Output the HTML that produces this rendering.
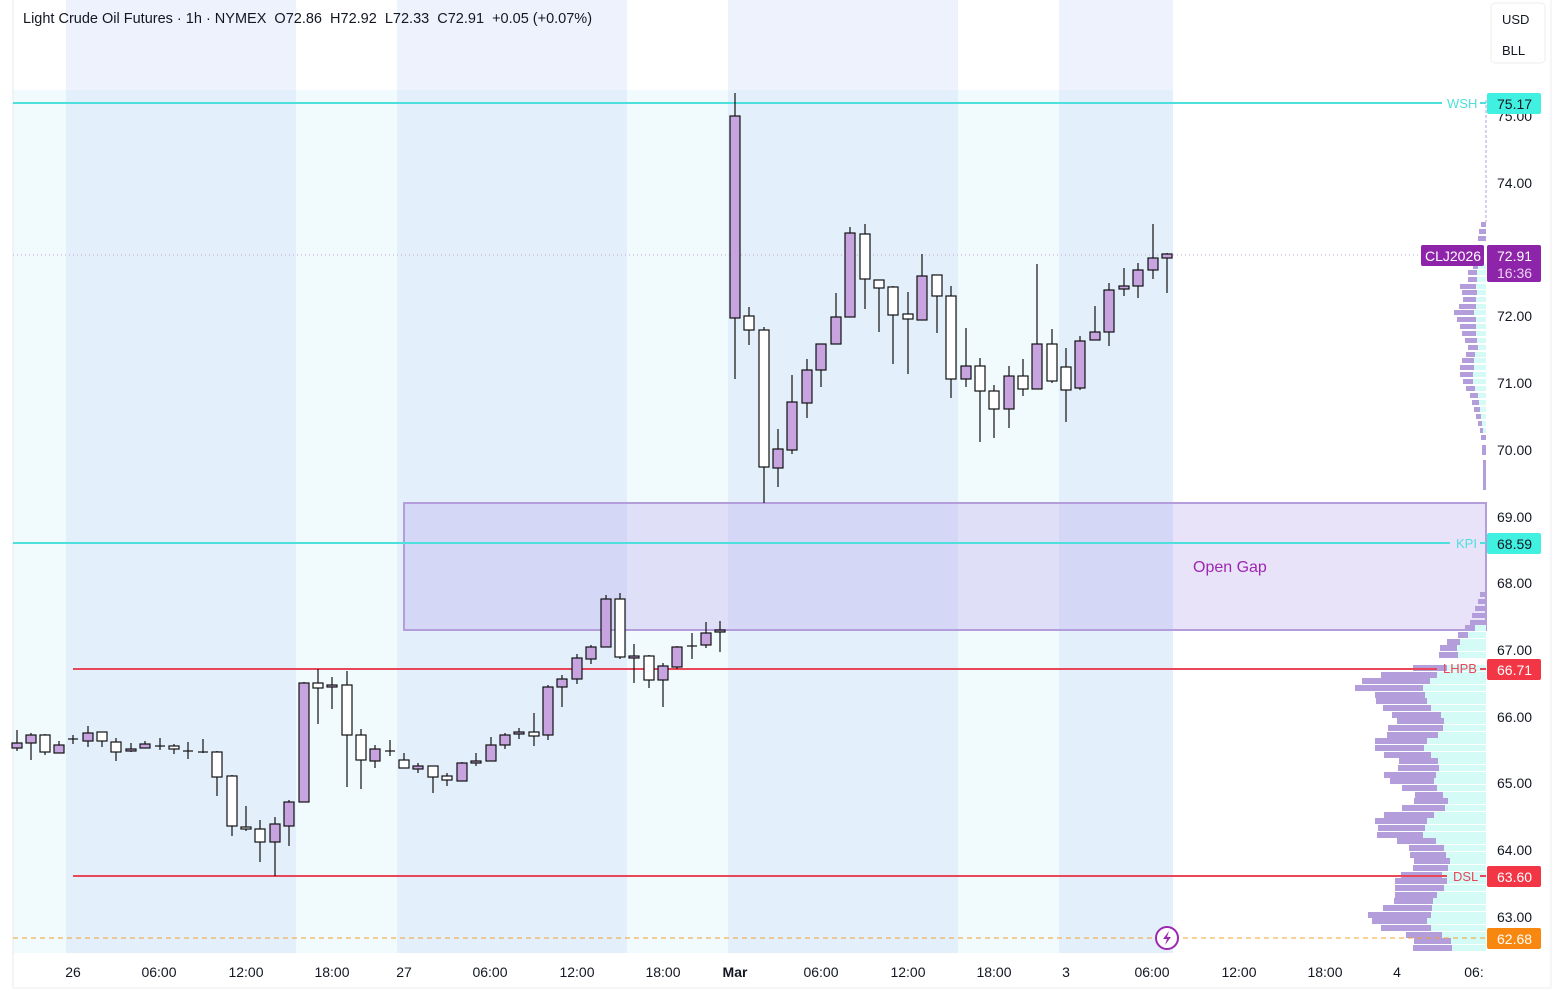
<!DOCTYPE html>
<html><head><meta charset="utf-8"><style>
body{margin:0;background:#fff;}
svg{display:block;font-family:"Liberation Sans",sans-serif;}
.hdr{white-space:pre;}
</style></head><body>
<svg width="1564" height="991" viewBox="0 0 1564 991" xmlns="http://www.w3.org/2000/svg">
<rect width="1564" height="991" fill="#fff"/>
<rect x="66" y="0" width="230" height="90" fill="#eef2fd"/>
<rect x="397" y="0" width="230" height="90" fill="#eef2fd"/>
<rect x="728" y="0" width="230" height="90" fill="#eef2fd"/>
<rect x="1059" y="0" width="114" height="90" fill="#eef2fd"/>
<rect x="13" y="90" width="1160" height="863" fill="#f1fafd"/>
<rect x="66" y="90" width="230" height="863" fill="#e3effb"/>
<rect x="397" y="90" width="230" height="863" fill="#e3effb"/>
<rect x="728" y="90" width="230" height="863" fill="#e3effb"/>
<rect x="1059" y="90" width="114" height="863" fill="#e3effb"/>
<line x1="13" y1="0" x2="13" y2="988" stroke="#e8e8ec"/>
<line x1="13" y1="988" x2="1551" y2="988" stroke="#eeeeee"/>
<line x1="1551" y1="0" x2="1551" y2="988" stroke="#eeeeee"/>
<rect x="404" y="503" width="1082" height="127" fill="rgba(175,155,235,0.28)" stroke="#b39ddb" stroke-width="2"/>
<text x="1193" y="572" font-size="16" fill="#9c27b0">Open Gap</text>
<line x1="13" y1="255" x2="1421" y2="255" stroke="#c9a6d6" stroke-dasharray="1,3"/>
<g fill="#b39ddb">
<rect x="1481" y="222" width="5" height="5"/><rect x="1479" y="229" width="7" height="5"/><rect x="1478" y="236" width="8" height="5"/>
</g>
<g>
<rect x="1473" y="264" width="13" height="5" fill="#d4fbf6"/><rect x="1473" y="264" width="5" height="5" fill="#b39ddb"/>
<rect x="1468" y="270" width="18" height="5" fill="#d4fbf6"/><rect x="1468" y="270" width="9" height="5" fill="#b39ddb"/>
<rect x="1468" y="277" width="18" height="5" fill="#d4fbf6"/><rect x="1468" y="277" width="9" height="5" fill="#b39ddb"/>
<rect x="1460" y="284" width="26" height="5" fill="#d4fbf6"/><rect x="1460" y="284" width="16" height="5" fill="#b39ddb"/>
<rect x="1462" y="290" width="24" height="5" fill="#d4fbf6"/><rect x="1462" y="290" width="15" height="5" fill="#b39ddb"/>
<rect x="1463" y="297" width="23" height="5" fill="#d4fbf6"/><rect x="1463" y="297" width="13" height="5" fill="#b39ddb"/>
<rect x="1459" y="304" width="27" height="5" fill="#d4fbf6"/><rect x="1459" y="304" width="17" height="5" fill="#b39ddb"/>
<rect x="1454" y="310" width="32" height="5" fill="#d4fbf6"/><rect x="1454" y="310" width="20" height="5" fill="#b39ddb"/>
<rect x="1457" y="317" width="29" height="5" fill="#d4fbf6"/><rect x="1457" y="317" width="19" height="5" fill="#b39ddb"/>
<rect x="1460" y="324" width="26" height="5" fill="#d4fbf6"/><rect x="1460" y="324" width="16" height="5" fill="#b39ddb"/>
<rect x="1462" y="331" width="24" height="5" fill="#d4fbf6"/><rect x="1462" y="331" width="14" height="5" fill="#b39ddb"/>
<rect x="1465" y="338" width="21" height="5" fill="#d4fbf6"/><rect x="1465" y="338" width="12" height="5" fill="#b39ddb"/>
<rect x="1468" y="345" width="18" height="5" fill="#d4fbf6"/><rect x="1468" y="345" width="10" height="5" fill="#b39ddb"/>
<rect x="1466" y="352" width="20" height="5" fill="#d4fbf6"/><rect x="1466" y="352" width="9" height="5" fill="#b39ddb"/>
<rect x="1462" y="358" width="24" height="5" fill="#d4fbf6"/><rect x="1462" y="358" width="12" height="5" fill="#b39ddb"/>
<rect x="1460" y="365" width="26" height="5" fill="#d4fbf6"/><rect x="1460" y="365" width="14" height="5" fill="#b39ddb"/>
<rect x="1460" y="372" width="26" height="5" fill="#d4fbf6"/><rect x="1460" y="372" width="13" height="5" fill="#b39ddb"/>
<rect x="1463" y="379" width="23" height="5" fill="#d4fbf6"/><rect x="1463" y="379" width="10" height="5" fill="#b39ddb"/>
<rect x="1466" y="386" width="20" height="5" fill="#d4fbf6"/><rect x="1466" y="386" width="9" height="5" fill="#b39ddb"/>
<rect x="1470" y="393" width="16" height="5" fill="#d4fbf6"/><rect x="1470" y="393" width="8" height="5" fill="#b39ddb"/>
<rect x="1472" y="400" width="14" height="5" fill="#d4fbf6"/><rect x="1472" y="400" width="7" height="5" fill="#b39ddb"/>
<rect x="1474" y="407" width="12" height="5" fill="#d4fbf6"/><rect x="1474" y="407" width="6" height="5" fill="#b39ddb"/>
<rect x="1476" y="414" width="10" height="5" fill="#d4fbf6"/><rect x="1476" y="414" width="5" height="5" fill="#b39ddb"/>
<rect x="1478" y="421" width="8" height="5" fill="#d4fbf6"/><rect x="1478" y="421" width="4" height="5" fill="#b39ddb"/>
<rect x="1480" y="428" width="6" height="5" fill="#d4fbf6"/><rect x="1480" y="428" width="3" height="5" fill="#b39ddb"/>
<rect x="1481" y="435" width="5" height="5" fill="#b39ddb"/><rect x="1482" y="445" width="4" height="10" fill="#b39ddb"/><rect x="1483" y="460" width="3" height="30" fill="#b39ddb"/>
</g>
<line x1="1486" y1="100" x2="1486" y2="222" stroke="#b39ddb" stroke-dasharray="3,2"/>
<g>
<rect x="1480" y="592" width="6" height="5" fill="#b39ddb"/>
<rect x="1478" y="599" width="8" height="5" fill="#b39ddb"/>
<rect x="1475" y="606" width="11" height="5" fill="#b39ddb"/>
<rect x="1472" y="613" width="14" height="5" fill="#b39ddb"/>
<rect x="1470" y="620" width="16" height="5" fill="#b39ddb"/>
<g fill="#d4fbf6">
<rect x="1475" y="625" width="11" height="6"/><rect x="1468" y="632" width="18" height="6"/><rect x="1460" y="639" width="26" height="6"/>
<rect x="1457" y="645" width="29" height="6"/><rect x="1458" y="652" width="28" height="6"/><rect x="1447" y="665" width="39" height="6"/>
<rect x="1437" y="672" width="49" height="6"/><rect x="1430" y="678" width="56" height="6"/><rect x="1423" y="685" width="63" height="6"/>
<rect x="1425" y="692" width="61" height="6"/><rect x="1427" y="698" width="59" height="6"/><rect x="1431" y="705" width="55" height="6"/>
<rect x="1441" y="712" width="45" height="6"/><rect x="1444" y="718" width="42" height="6"/><rect x="1443" y="725" width="43" height="6"/>
<rect x="1438" y="732" width="48" height="6"/><rect x="1427" y="738" width="59" height="6"/><rect x="1424" y="745" width="62" height="6"/>
<rect x="1431" y="752" width="55" height="6"/><rect x="1438" y="758" width="48" height="6"/><rect x="1439" y="765" width="47" height="6"/>
<rect x="1436" y="772" width="50" height="6"/><rect x="1434" y="778" width="52" height="6"/><rect x="1437" y="785" width="49" height="6"/>
<rect x="1443" y="792" width="43" height="6"/><rect x="1448" y="798" width="38" height="6"/><rect x="1445" y="805" width="41" height="6"/>
<rect x="1434" y="812" width="52" height="6"/><rect x="1427" y="818" width="59" height="6"/><rect x="1425" y="825" width="61" height="6"/>
<rect x="1423" y="832" width="63" height="6"/><rect x="1436" y="838" width="50" height="6"/><rect x="1444" y="845" width="42" height="6"/>
<rect x="1446" y="852" width="40" height="6"/><rect x="1450" y="858" width="36" height="6"/><rect x="1448" y="865" width="38" height="6"/>
<rect x="1442" y="872" width="44" height="6"/><rect x="1447" y="878" width="39" height="6"/><rect x="1444" y="885" width="42" height="6"/>
<rect x="1437" y="892" width="49" height="6"/><rect x="1433" y="898" width="53" height="6"/><rect x="1432" y="905" width="54" height="6"/>
<rect x="1431" y="912" width="55" height="6"/><rect x="1427" y="918" width="59" height="6"/><rect x="1431" y="925" width="55" height="6"/>
<rect x="1442" y="932" width="44" height="6"/><rect x="1451" y="938" width="35" height="6"/><rect x="1452" y="945" width="34" height="6"/>
</g>
<g fill="#b39ddb">
<rect x="1465" y="625" width="10" height="6"/><rect x="1458" y="632" width="10" height="6"/><rect x="1447" y="639" width="13" height="6"/>
<rect x="1440" y="645" width="17" height="6"/><rect x="1439" y="652" width="19" height="6"/><rect x="1413" y="665" width="34" height="6"/>
<rect x="1381" y="672" width="56" height="6"/><rect x="1362" y="678" width="68" height="6"/><rect x="1355" y="685" width="68" height="6"/>
<rect x="1375" y="692" width="50" height="6"/><rect x="1376" y="698" width="51" height="6"/><rect x="1383" y="705" width="48" height="6"/>
<rect x="1392" y="712" width="49" height="6"/><rect x="1397" y="718" width="47" height="6"/><rect x="1388" y="725" width="55" height="6"/>
<rect x="1387" y="732" width="51" height="6"/><rect x="1375" y="738" width="52" height="6"/><rect x="1375" y="745" width="49" height="6"/>
<rect x="1384" y="752" width="47" height="6"/><rect x="1399" y="758" width="39" height="6"/><rect x="1398" y="765" width="41" height="6"/>
<rect x="1384" y="772" width="52" height="6"/><rect x="1390" y="778" width="44" height="6"/><rect x="1402" y="785" width="35" height="6"/>
<rect x="1415" y="792" width="28" height="6"/><rect x="1414" y="798" width="34" height="6"/><rect x="1402" y="805" width="43" height="6"/>
<rect x="1384" y="812" width="50" height="6"/><rect x="1375" y="818" width="52" height="6"/><rect x="1378" y="825" width="47" height="6"/>
<rect x="1377" y="832" width="46" height="6"/><rect x="1397" y="838" width="39" height="6"/><rect x="1409" y="845" width="35" height="6"/>
<rect x="1410" y="852" width="36" height="6"/><rect x="1414" y="858" width="36" height="6"/><rect x="1413" y="865" width="35" height="6"/>
<rect x="1401" y="872" width="41" height="6"/><rect x="1395" y="878" width="52" height="6"/><rect x="1395" y="885" width="49" height="6"/>
<rect x="1395" y="892" width="42" height="6"/><rect x="1394" y="898" width="39" height="6"/><rect x="1383" y="905" width="49" height="6"/>
<rect x="1368" y="912" width="63" height="6"/><rect x="1372" y="918" width="55" height="6"/><rect x="1381" y="925" width="50" height="6"/>
<rect x="1406" y="932" width="36" height="6"/><rect x="1414" y="938" width="37" height="6"/><rect x="1413" y="945" width="39" height="6"/>
</g>
</g>
<line x1="13" y1="103" x2="1442" y2="103" stroke="#4ee0dc" stroke-width="2"/>
<text x="1447" y="108" font-size="13" fill="#4ee0dc">WSH</text>
<line x1="1480" y1="103" x2="1486" y2="103" stroke="#4ee0dc" stroke-width="2"/>
<line x1="13" y1="543" x2="1450" y2="543" stroke="#4ee0dc" stroke-width="2"/>
<text x="1456" y="548" font-size="13" fill="#4ee0dc">KPI</text>
<line x1="1480" y1="543" x2="1486" y2="543" stroke="#4ee0dc" stroke-width="2"/>
<line x1="73" y1="669" x2="1437" y2="669" stroke="#e8475a" stroke-width="2"/>
<text x="1443" y="673" font-size="13" fill="#e8475a">LHPB</text>
<line x1="1480" y1="669" x2="1486" y2="669" stroke="#e8475a" stroke-width="2"/>
<line x1="73" y1="876" x2="1447" y2="876" stroke="#e8475a" stroke-width="2"/>
<text x="1453" y="881" font-size="13" fill="#e8475a">DSL</text>
<line x1="1480" y1="876" x2="1486" y2="876" stroke="#e8475a" stroke-width="2"/>
<line x1="13" y1="938" x2="1486" y2="938" stroke="#f0a030" stroke-dasharray="5,4"/>
<g stroke="#111" stroke-width="1.2">
<line x1="17" y1="730" x2="17" y2="751"/><rect x="12" y="743" width="10" height="5" fill="#c7a3e0"/>
<line x1="31" y1="733" x2="31" y2="760"/><rect x="26" y="735" width="10" height="8" fill="#c7a3e0"/>
<line x1="45" y1="734" x2="45" y2="755"/><rect x="40" y="735" width="10" height="17" fill="#fff"/>
<line x1="59" y1="741" x2="59" y2="753"/><rect x="54" y="745" width="10" height="8" fill="#c7a3e0"/>
<line x1="73" y1="735" x2="73" y2="744"/><line x1="68" y1="739" x2="78" y2="739"/>
<line x1="88" y1="726" x2="88" y2="747"/><rect x="83" y="733" width="10" height="8" fill="#c7a3e0"/>
<line x1="102" y1="732" x2="102" y2="747"/><rect x="97" y="732" width="10" height="9" fill="#fff"/>
<line x1="116" y1="738" x2="116" y2="761"/><rect x="111" y="742" width="10" height="10" fill="#fff"/>
<line x1="131" y1="743" x2="131" y2="752"/><rect x="126" y="749" width="10" height="2" fill="#c7a3e0"/>
<line x1="145" y1="741" x2="145" y2="748"/><rect x="140" y="744" width="10" height="4" fill="#c7a3e0"/>
<line x1="160" y1="738" x2="160" y2="750"/><line x1="155" y1="746" x2="165" y2="746"/>
<line x1="174" y1="744" x2="174" y2="754"/><rect x="169" y="746" width="10" height="3" fill="#fff"/>
<line x1="188" y1="742" x2="188" y2="759"/><line x1="183" y1="751" x2="193" y2="751"/>
<line x1="203" y1="739" x2="203" y2="753"/><line x1="198" y1="752" x2="208" y2="752"/>
<line x1="217" y1="751" x2="217" y2="796"/><rect x="212" y="752" width="10" height="25" fill="#fff"/>
<line x1="232" y1="775" x2="232" y2="836"/><rect x="227" y="776" width="10" height="50" fill="#fff"/>
<line x1="246" y1="806" x2="246" y2="831"/><rect x="241" y="827" width="10" height="2" fill="#fff"/>
<line x1="260" y1="820" x2="260" y2="862"/><rect x="255" y="829" width="10" height="13" fill="#fff"/>
<line x1="275" y1="817" x2="275" y2="876"/><rect x="270" y="824" width="10" height="18" fill="#c7a3e0"/>
<line x1="289" y1="800" x2="289" y2="846"/><rect x="284" y="802" width="10" height="24" fill="#c7a3e0"/>
<line x1="304" y1="682" x2="304" y2="802"/><rect x="299" y="683" width="10" height="119" fill="#c7a3e0"/>
<line x1="318" y1="669" x2="318" y2="724"/><rect x="313" y="683" width="10" height="5" fill="#fff"/>
<line x1="332" y1="677" x2="332" y2="709"/><rect x="327" y="685" width="10" height="2" fill="#c7a3e0"/>
<line x1="347" y1="671" x2="347" y2="787"/><rect x="342" y="685" width="10" height="50" fill="#fff"/>
<line x1="361" y1="729" x2="361" y2="789"/><rect x="356" y="735" width="10" height="25" fill="#fff"/>
<line x1="375" y1="745" x2="375" y2="768"/><rect x="370" y="749" width="10" height="12" fill="#c7a3e0"/>
<line x1="390" y1="740" x2="390" y2="756"/><line x1="385" y1="751" x2="395" y2="751"/>
<line x1="404" y1="753" x2="404" y2="768"/><rect x="399" y="760" width="10" height="8" fill="#fff"/>
<line x1="418" y1="763" x2="418" y2="773"/><rect x="413" y="766" width="10" height="3" fill="#c7a3e0"/>
<line x1="433" y1="766" x2="433" y2="793"/><rect x="428" y="766" width="10" height="11" fill="#fff"/>
<line x1="447" y1="773" x2="447" y2="786"/><rect x="442" y="776" width="10" height="4" fill="#fff"/>
<line x1="462" y1="762" x2="462" y2="781"/><rect x="457" y="763" width="10" height="18" fill="#c7a3e0"/>
<line x1="476" y1="753" x2="476" y2="766"/><rect x="471" y="761" width="10" height="2" fill="#c7a3e0"/>
<line x1="491" y1="737" x2="491" y2="761"/><rect x="486" y="745" width="10" height="16" fill="#c7a3e0"/>
<line x1="505" y1="733" x2="505" y2="749"/><rect x="500" y="735" width="10" height="10" fill="#c7a3e0"/>
<line x1="519" y1="728" x2="519" y2="739"/><rect x="514" y="732" width="10" height="2" fill="#c7a3e0"/>
<line x1="534" y1="713" x2="534" y2="746"/><rect x="529" y="732" width="10" height="4" fill="#fff"/>
<line x1="548" y1="685" x2="548" y2="740"/><rect x="543" y="687" width="10" height="48" fill="#c7a3e0"/>
<line x1="562" y1="675" x2="562" y2="707"/><rect x="557" y="679" width="10" height="8" fill="#c7a3e0"/>
<line x1="577" y1="654" x2="577" y2="684"/><rect x="572" y="658" width="10" height="21" fill="#c7a3e0"/>
<line x1="591" y1="645" x2="591" y2="664"/><rect x="586" y="647" width="10" height="12" fill="#c7a3e0"/>
<line x1="606" y1="595" x2="606" y2="647"/><rect x="601" y="599" width="10" height="48" fill="#c7a3e0"/>
<line x1="620" y1="593" x2="620" y2="659"/><rect x="615" y="599" width="10" height="58" fill="#fff"/>
<line x1="634" y1="644" x2="634" y2="683"/><rect x="629" y="656" width="10" height="2" fill="#c7a3e0"/>
<line x1="649" y1="655" x2="649" y2="688"/><rect x="644" y="656" width="10" height="24" fill="#fff"/>
<line x1="663" y1="663" x2="663" y2="707"/><rect x="658" y="666" width="10" height="14" fill="#c7a3e0"/>
<line x1="677" y1="646" x2="677" y2="669"/><rect x="672" y="647" width="10" height="20" fill="#c7a3e0"/>
<line x1="692" y1="633" x2="692" y2="659"/><line x1="687" y1="646" x2="697" y2="646"/>
<line x1="706" y1="622" x2="706" y2="648"/><rect x="701" y="633" width="10" height="12" fill="#c7a3e0"/>
<line x1="720" y1="621" x2="720" y2="652"/><rect x="715" y="630" width="10" height="2" fill="#c7a3e0"/>
<line x1="735" y1="93" x2="735" y2="379"/><rect x="730" y="116" width="10" height="202" fill="#c7a3e0"/>
<line x1="749" y1="307" x2="749" y2="345"/><rect x="744" y="316" width="10" height="14" fill="#fff"/>
<line x1="764" y1="327" x2="764" y2="503"/><rect x="759" y="330" width="10" height="137" fill="#fff"/>
<line x1="778" y1="429" x2="778" y2="487"/><rect x="773" y="449" width="10" height="19" fill="#c7a3e0"/>
<line x1="792" y1="375" x2="792" y2="454"/><rect x="787" y="402" width="10" height="48" fill="#c7a3e0"/>
<line x1="807" y1="359" x2="807" y2="418"/><rect x="802" y="370" width="10" height="33" fill="#c7a3e0"/>
<line x1="821" y1="344" x2="821" y2="387"/><rect x="816" y="344" width="10" height="26" fill="#c7a3e0"/>
<line x1="836" y1="293" x2="836" y2="344"/><rect x="831" y="317" width="10" height="27" fill="#c7a3e0"/>
<line x1="850" y1="227" x2="850" y2="317"/><rect x="845" y="233" width="10" height="84" fill="#c7a3e0"/>
<line x1="865" y1="224" x2="865" y2="309"/><rect x="860" y="234" width="10" height="45" fill="#fff"/>
<line x1="879" y1="280" x2="879" y2="332"/><rect x="874" y="280" width="10" height="8" fill="#fff"/>
<line x1="893" y1="286" x2="893" y2="364"/><rect x="888" y="287" width="10" height="28" fill="#fff"/>
<line x1="908" y1="292" x2="908" y2="374"/><rect x="903" y="314" width="10" height="5" fill="#fff"/>
<line x1="922" y1="254" x2="922" y2="320"/><rect x="917" y="276" width="10" height="44" fill="#c7a3e0"/>
<line x1="937" y1="275" x2="937" y2="333"/><rect x="932" y="275" width="10" height="21" fill="#fff"/>
<line x1="951" y1="286" x2="951" y2="398"/><rect x="946" y="296" width="10" height="83" fill="#fff"/>
<line x1="966" y1="328" x2="966" y2="387"/><rect x="961" y="366" width="10" height="13" fill="#c7a3e0"/>
<line x1="980" y1="358" x2="980" y2="442"/><rect x="975" y="366" width="10" height="25" fill="#fff"/>
<line x1="994" y1="385" x2="994" y2="438"/><rect x="989" y="391" width="10" height="18" fill="#fff"/>
<line x1="1009" y1="366" x2="1009" y2="428"/><rect x="1004" y="376" width="10" height="33" fill="#c7a3e0"/>
<line x1="1023" y1="359" x2="1023" y2="396"/><rect x="1018" y="376" width="10" height="13" fill="#fff"/>
<line x1="1037" y1="264" x2="1037" y2="389"/><rect x="1032" y="344" width="10" height="45" fill="#c7a3e0"/>
<line x1="1052" y1="329" x2="1052" y2="383"/><rect x="1047" y="344" width="10" height="37" fill="#fff"/>
<line x1="1066" y1="348" x2="1066" y2="422"/><rect x="1061" y="367" width="10" height="23" fill="#fff"/>
<line x1="1080" y1="336" x2="1080" y2="390"/><rect x="1075" y="341" width="10" height="47" fill="#c7a3e0"/>
<line x1="1095" y1="306" x2="1095" y2="340"/><rect x="1090" y="332" width="10" height="8" fill="#c7a3e0"/>
<line x1="1109" y1="283" x2="1109" y2="346"/><rect x="1104" y="290" width="10" height="42" fill="#c7a3e0"/>
<line x1="1124" y1="268" x2="1124" y2="296"/><rect x="1119" y="286" width="10" height="3" fill="#c7a3e0"/>
<line x1="1138" y1="263" x2="1138" y2="298"/><rect x="1133" y="270" width="10" height="16" fill="#c7a3e0"/>
<line x1="1153" y1="224" x2="1153" y2="279"/><rect x="1148" y="258" width="10" height="12" fill="#c7a3e0"/>
<line x1="1167" y1="253" x2="1167" y2="293"/><rect x="1162" y="254" width="10" height="4" fill="#c7a3e0"/>
</g>
<circle cx="1167" cy="938" r="11" fill="#fff" stroke="#9c27b0" stroke-width="2"/>
<path d="M1169 931 L1163 939 L1167 939 L1165 945 L1171 937 L1167 937 Z" fill="#9c27b0"/>
<text class="hdr" x="23" y="23" font-size="14.5" fill="#131722">Light Crude Oil Futures · 1h · NYMEX  O72.86  H72.92  L72.33  C72.91  +0.05 (+0.07%)</text>
<rect x="1491" y="3" width="54" height="60" rx="4" fill="#fff" stroke="#eeeeee"/>
<text x="1502" y="24" font-size="13" fill="#131722">USD</text>
<text x="1502" y="55" font-size="13" fill="#131722">BLL</text>
<g font-size="14" fill="#131722">
<text x="1497" y="121">75.00</text>
<text x="1497" y="188">74.00</text>
<text x="1497" y="255">73.00</text>
<text x="1497" y="321">72.00</text>
<text x="1497" y="388">71.00</text>
<text x="1497" y="455">70.00</text>
<text x="1497" y="522">69.00</text>
<text x="1497" y="588">68.00</text>
<text x="1497" y="655">67.00</text>
<text x="1497" y="722">66.00</text>
<text x="1497" y="788">65.00</text>
<text x="1497" y="855">64.00</text>
<text x="1497" y="922">63.00</text>
</g>
<rect x="1487" y="93" width="54" height="21" rx="2" fill="#40f0e0"/>
<text x="1497" y="109" font-size="14" fill="#131722">75.17</text>
<rect x="1487" y="533" width="54" height="21" rx="2" fill="#40f0e0"/>
<text x="1497" y="549" font-size="14" fill="#131722">68.59</text>
<rect x="1487" y="659" width="54" height="21" rx="2" fill="#f23645"/>
<text x="1497" y="675" font-size="14" fill="#fff">66.71</text>
<rect x="1487" y="866" width="54" height="21" rx="2" fill="#f23645"/>
<text x="1497" y="882" font-size="14" fill="#fff">63.60</text>
<rect x="1487" y="928" width="54" height="21" rx="2" fill="#f7870f"/>
<text x="1497" y="944" font-size="14" fill="#fff">62.68</text>
<rect x="1421" y="245" width="63" height="21" rx="2" fill="#8e24aa"/>
<text x="1425" y="261" font-size="14" fill="#fff">CLJ2026</text>
<rect x="1487" y="245" width="54" height="37" rx="2" fill="#8e24aa"/>
<text x="1497" y="261" font-size="14" fill="#fff">72.91</text>
<text x="1497" y="278" font-size="14" fill="#e8d4f0">16:36</text>
<g font-size="14" fill="#131722" text-anchor="middle">
<text x="73" y="977">26</text><text x="159" y="977">06:00</text><text x="246" y="977">12:00</text><text x="332" y="977">18:00</text>
<text x="404" y="977">27</text><text x="490" y="977">06:00</text><text x="577" y="977">12:00</text><text x="663" y="977">18:00</text>
<text x="735" y="977" font-weight="bold">Mar</text><text x="821" y="977">06:00</text><text x="908" y="977">12:00</text><text x="994" y="977">18:00</text>
<text x="1066" y="977">3</text><text x="1152" y="977">06:00</text><text x="1239" y="977">12:00</text><text x="1325" y="977">18:00</text>
<text x="1397" y="977">4</text><text x="1474" y="977">06:</text>
</g>
</svg>
</body></html>
